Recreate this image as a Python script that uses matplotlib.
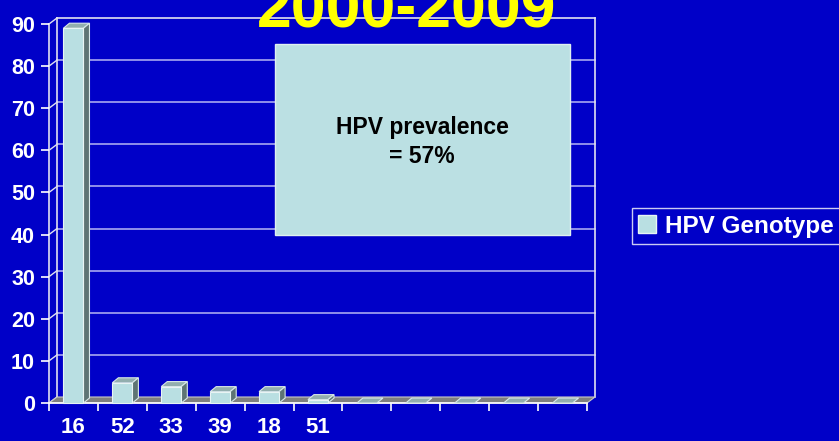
import matplotlib
matplotlib.use('Agg')
import matplotlib.pyplot as plt
from matplotlib.patches import Rectangle, Polygon, Patch
import numpy as np

plt.rcParams['font.family'] = ['Liberation Sans', 'DejaVu Sans']
plt.rcParams['font.weight'] = 'bold'

# data
genotypes = ['16', '52', '33', '39', '18', '51', '', '', '', '', '']
prevalence = [89, 4.8, 3.9, 2.7, 2.7, 0.8, 0, 0, 0, 0, 0]
yticks = [0, 10, 20, 30, 40, 50, 60, 70, 80, 90]
title = '2000-2009'
box_text = 'HPV prevalence\n= 57%'
series_name = 'HPV Genotype'

bg = '#0000C8'
front_c = '#B9DFE2'
side_c = '#5E7474'
top_c = '#92AEAE'
grid_c = '#A8A8F0'
floor_c = '#7F7F7F'

W, H = 839, 441
fig = plt.figure(figsize=(W / 100, H / 100), dpi=100, facecolor=bg)
ax = fig.add_axes([49 / W, (H - 403) / H, 538 / W, 379 / H])
ax.set_facecolor('none')
n = len(genotypes)
ax.set_xlim(0, n)
ax.set_ylim(0, 90)
for s in ax.spines.values():
    s.set_visible(False)

# pixel -> data helpers for the fake 3d depth
px_x = 538 / n
px_y = 379 / 90
wdx, wdy = 8 / px_x, 6 / px_y      # wall depth
bdx, bdy = 6 / px_x, 5 / px_y      # bar depth

kw = dict(clip_on=False)
# back wall gridlines + left wall diagonals
for t in yticks:
    c = grid_c if 0 < t < 90 else '#E0E0F0'
    if t > 0:
        ax.plot([wdx, n + wdx], [t + wdy, t + wdy], color=c, lw=1.2, zorder=1, **kw)
    ax.plot([0, wdx], [t, t + wdy], color='#E0E0F0', lw=1, zorder=1, **kw)
ax.plot([wdx, wdx], [wdy, 90 + wdy], color='#E0E0F0', lw=1.2, zorder=1, **kw)
ax.plot([0, 0], [0, 90], color='#E0E0F0', lw=1.2, zorder=1, **kw)
ax.plot([n + wdx, n + wdx], [wdy, 90 + wdy], color='#E0E0F0', lw=1.2, zorder=1, **kw)

# floor
ax.add_patch(Polygon([[0, 0], [n, 0], [n + wdx, wdy], [wdx, wdy]], closed=True,
                     facecolor=floor_c, edgecolor='#C8C8C8', lw=0.8, zorder=2, **kw))
ax.plot([0, n], [0, 0], color='white', lw=1.2, zorder=2, **kw)

# bars
bw = 0.41
for i, v in enumerate(prevalence):
    x0 = i + 0.5 - bw / 2
    x1 = x0 + bw
    ax.add_patch(Polygon([[x0, v], [x1, v], [x1 + bdx, v + bdy], [x0 + bdx, v + bdy]],
                         closed=True, facecolor=top_c, edgecolor='#D8E8E8', lw=0.8, zorder=4, **kw))
    if v > 0:
        ax.add_patch(Polygon([[x1, 0], [x1 + bdx, bdy], [x1 + bdx, v + bdy], [x1, v]],
                             closed=True, facecolor=side_c, edgecolor='#D8E8E8', lw=0.8, zorder=4, **kw))
        ax.add_patch(Rectangle((x0, 0), bw, v, facecolor=front_c, edgecolor='#E8F4F4',
                               lw=0.8, zorder=5, **kw))

# ticks
ax.set_yticks(yticks)
ax.set_yticklabels([str(t) for t in yticks])
ax.tick_params(axis='y', colors='white', labelcolor='white', labelsize=15.5,
               length=6, width=1.2, pad=4)
ax.set_xticks(np.arange(n + 1))
ax.set_xticklabels([])
ax.set_xticks(np.arange(n) + 0.5, minor=True)
ax.set_xticklabels(genotypes, minor=True)
ax.tick_params(axis='x', which='major', colors='white', length=6, width=1.2)
ax.tick_params(axis='x', which='minor', length=0, labelcolor='white', labelsize=16, pad=10)

# title (cut off at top like the slide)
fig.text(407 / W, (H - 27) / H, title, color='#FFFF00', fontsize=45,
         fontweight='bold', ha='center', va='baseline')

# text box
fig.patches.append(Rectangle((275 / W, (H - 235) / H), 295 / W, 191 / H,
                             transform=fig.transFigure, facecolor='#BBE0E3',
                             edgecolor='#E0F0F0', lw=1, zorder=6))
fig.text(422 / W, (H - 142) / H, box_text, color='black', fontsize=16.5,
         fontweight='bold', ha='center', va='center', linespacing=1.3, zorder=7)

# legend
leg = fig.legend(handles=[Patch(facecolor=front_c, edgecolor='#E8F4F4', label=series_name)],
                 loc='center left', bbox_to_anchor=(632 / W, (H - 226) / H),
                 frameon=True, fontsize=17.5, handlelength=0.75, handleheight=0.75,
                 handletextpad=0.35, borderpad=0.25, borderaxespad=0, fancybox=False)
leg.get_frame().set_facecolor(bg)
leg.get_frame().set_edgecolor('white')
for t in leg.get_texts():
    t.set_color('white')

fig.savefig('out.png', dpi=100, facecolor=bg)
